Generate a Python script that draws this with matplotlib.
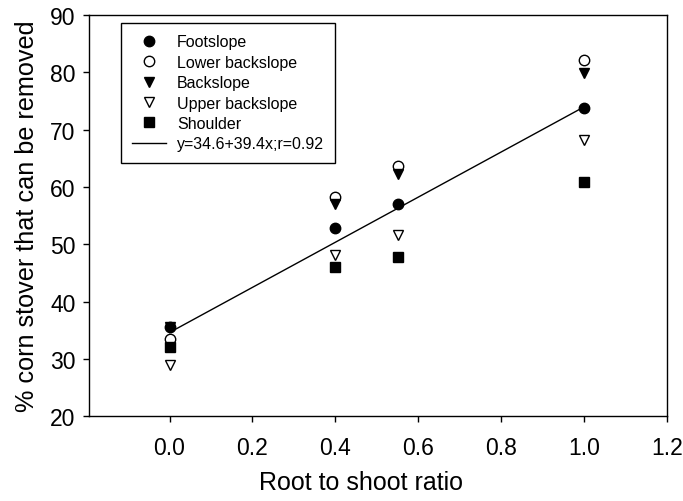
import matplotlib
matplotlib.use("Agg")
import matplotlib.pyplot as plt

plt.rcParams["font.family"] = ["Liberation Sans", "DejaVu Sans"]

# root to shoot ratio
ratio = [0.0, 0.4, 0.55, 1.0]

# % corn stover that can be removed, per landscape position
footslope = [35.5, 52.9, 57.0, 73.7]
lower_backslope = [33.4, 58.3, 63.6, 82.1]
backslope = [35.6, 57.1, 62.2, 79.9]
upper_backslope = [29.0, 48.1, 51.6, 68.2]
shoulder = [32.0, 46.0, 47.7, 60.9]

# regression y = a + b x
fit_a = 34.6
fit_b = 39.4
fit_x = [0.0, 1.0]


def main():
    fig = plt.figure(figsize=(6.83, 5.02), dpi=100)
    ax = fig.add_axes([0.131, 0.169, 0.846, 0.799])

    ms = 7.5
    ax.plot(ratio, footslope, "o", color="black", ms=ms, ls="none",
            label="Footslope")
    ax.plot(ratio, lower_backslope, "o", mfc="white", mec="black", mew=1.0,
            ms=ms, ls="none", label="Lower backslope")
    ax.plot(ratio, backslope, "v", color="black", ms=ms, ls="none",
            label="Backslope")
    ax.plot(ratio, upper_backslope, "v", mfc="white", mec="black", mew=1.0,
            ms=ms, ls="none", label="Upper backslope")
    ax.plot(ratio, shoulder, "s", color="black", ms=ms - 0.5, ls="none",
            label="Shoulder")
    fit_y = [fit_a + fit_b * x for x in fit_x]
    ax.plot(fit_x, fit_y, "-", color="black", lw=1.0,
            label="y=34.6+39.4x;r=0.92")

    ax.set_xlim(-0.193, 1.2)
    ax.set_ylim(20, 90)
    ax.set_xticks([0.0, 0.2, 0.4, 0.6, 0.8, 1.0, 1.2])
    ax.set_xticklabels(["0.0", "0.2", "0.4", "0.6", "0.8", "1.0", "1.2"])
    ax.set_yticks(range(20, 91, 10))
    ax.tick_params(direction="out", length=4, width=1, labelsize=16.5,
                   top=False, right=False)
    ax.tick_params(axis="x", pad=10)
    ax.tick_params(axis="y", pad=6)
    for s in ax.spines.values():
        s.set_linewidth(1.0)

    ax.set_xlabel("Root to shoot ratio", fontsize=18, labelpad=11)
    ax.xaxis.set_label_coords(0.47, -0.135)
    ax.set_ylabel("% corn stover that can be removed", fontsize=18.2,
                  labelpad=8)

    leg = ax.legend(loc="upper left", bbox_to_anchor=(0.0545, 0.98),
                    borderaxespad=0, fontsize=11.5, frameon=True,
                    fancybox=False, edgecolor="black", framealpha=1,
                    handlelength=2.1, handletextpad=0.7, borderpad=0.7,
                    labelspacing=0.34)
    leg.get_frame().set_linewidth(1.0)

    fig.savefig("out.png", dpi=100)


if __name__ == "__main__":
    main()
